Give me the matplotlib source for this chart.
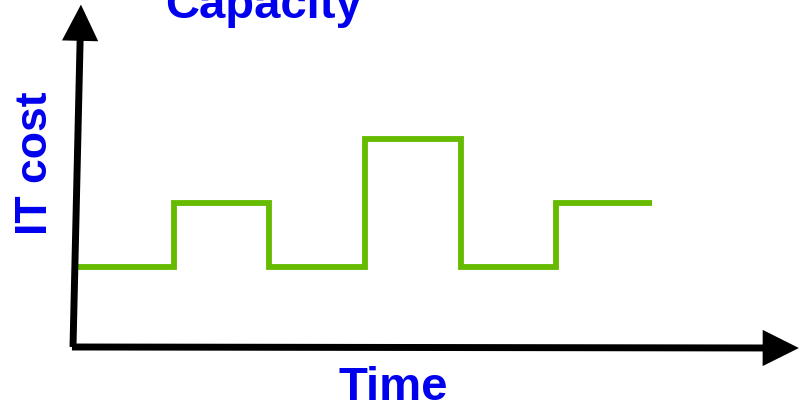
import matplotlib
matplotlib.use("Agg")
import matplotlib.pyplot as plt
from matplotlib.patches import FancyArrowPatch

# Data: step capacity over time
time_edges = [0, 1, 2, 3, 4, 5, 6]
capacity_levels = [1, 2, 1, 3, 1, 2]
title_text = "Capacity"
x_label = "Time"
y_label = "IT cost"

plt.rcParams['font.family'] = ['Liberation Sans', 'DejaVu Sans']

fig = plt.figure(figsize=(8.01, 4.07), dpi=100)
ax = fig.add_axes([0, 0, 1, 1])
ax.set_xlim(-0.815, 7.557)
ax.set_ylim(-1.1875, 5.172)
ax.axis('off')

# step line
xs = []
ys = []
for i, lvl in enumerate(capacity_levels):
    xs += [time_edges[i], time_edges[i + 1]]
    ys += [lvl, lvl]
ax.plot(xs, ys, color='#66bb00', lw=4.2, solid_joinstyle='miter', solid_capstyle='butt', zorder=3)

# axes arrows
style = '-|>,head_length=1.2,head_width=0.6'
for (p0, p1) in [((-0.052, -0.25), (0.031, 5.10)), ((-0.063, -0.25), (7.535, -0.266))]:
    ax.add_patch(FancyArrowPatch(p0, p1, arrowstyle=style, mutation_scale=15, lw=5,
                                 color='black', shrinkA=0, shrinkB=0, zorder=4,
                                 joinstyle='miter', capstyle='butt'))

blue = '#0000ee'
ax.text(1.934, 4.89, title_text, color=blue, fontsize=34, fontweight='bold',
        ha='center', va='baseline')
ax.text(3.293, -1.078, x_label, color=blue, fontsize=34, fontweight='bold',
        ha='center', va='baseline')
ax.text(-0.44, 2.625, y_label, color=blue, fontsize=32, fontweight='bold',
        ha='center', va='center', rotation=90, rotation_mode='anchor')

fig.savefig('out.png', dpi=100)
